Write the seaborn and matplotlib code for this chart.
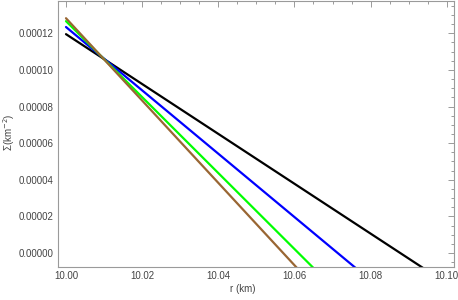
import numpy as np
import pandas as pd
import seaborn as sns
import matplotlib.pyplot as plt
from matplotlib.ticker import MultipleLocator, FormatStrFormatter

# Data ------------------------------------------------------------------------

r_km = [10.00, 10.10]
sigma_brown = [1.282e-4, -9.65e-5]
sigma_green = [1.266e-4, -8.07e-5]
sigma_blue = [1.234e-4, -4.95e-5]
sigma_black = [1.195e-4, -1.66e-5]

curves = {
  "black": sigma_black,
  "blue": sigma_blue,
  "green": sigma_green,
  "brown": sigma_brown,
}
colors = {"black": "#000000", "blue": "#0000ff", "green": "#00ff00", "brown": "#996633"}

df = pd.concat(
  [pd.DataFrame({"r": r_km, "sigma": v, "curve": k}) for k, v in curves.items()],
  ignore_index = True
)

# Plot -------------------------------------------------------------------------

sns.set_style("white")
plt.rcParams["font.family"] = ["Liberation Sans", "DejaVu Sans"]

fig = plt.figure(figsize = (4.58, 3.0), dpi = 100)
ax = fig.add_axes([58 / 458, 33 / 300, 396 / 458, 266 / 300])

sns.lineplot(data = df, x = "r", y = "sigma", hue = "curve", palette = colors,
             linewidth = 1.6, legend = False, ax = ax, estimator = None, sort = False)

ax.set_xlim(9.9979, 10.1019)
ax.set_ylim(-7.6e-6, 1.376e-4)

ax.xaxis.set_major_locator(MultipleLocator(0.02))
ax.xaxis.set_minor_locator(MultipleLocator(0.005))
ax.yaxis.set_major_locator(MultipleLocator(2e-5))
ax.yaxis.set_minor_locator(MultipleLocator(5e-6))
ax.xaxis.set_major_formatter(FormatStrFormatter("%.2f"))
ax.yaxis.set_major_formatter(FormatStrFormatter("%.5f"))

frame = "#9a9a9a"
for s in ax.spines.values():
  s.set_color(frame)
  s.set_linewidth(0.8)
ax.tick_params(which = "both", direction = "in", top = True, right = True,
               color = frame, width = 0.7, labelsize = 7, labelcolor = "#444444", pad = 3)
ax.tick_params(which = "major", length = 4.5)
ax.tick_params(which = "minor", length = 2.5)

ax.set_xlabel("")
ax.set_ylabel("")
fig.text(243 / 458, 1 - 289 / 300, "r (km)", ha = "center", va = "center", fontsize = 7, color = "#444444")
fig.text(9 / 458, 1 - 132 / 300, "Σ(km$^{-2}$)", ha = "center", va = "center", rotation = 90,
         fontsize = 7, color = "#444444")

fig.savefig("out.png", dpi = 100)
